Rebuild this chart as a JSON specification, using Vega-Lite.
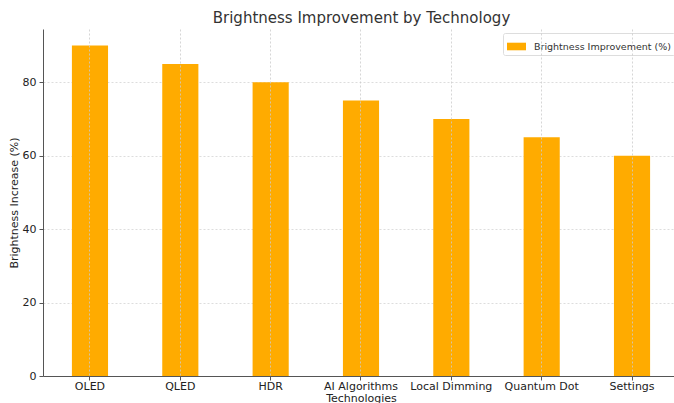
{
  "$schema": "https://vega.github.io/schema/vega-lite/v6.json",
  "width": 631,
  "height": 347,
  "autosize": {"type": "none"},
  "padding": {"left": 43, "top": 29, "right": 0, "bottom": 27},
  "config": {
    "font": "DejaVu Sans",
    "view": {"stroke": null},
    "axis": {"labelFont": "DejaVu Sans", "titleFont": "DejaVu Sans"}
  },
  "title": {
    "text": "Brightness Improvement by Technology",
    "fontSize": 15,
    "fontWeight": "normal",
    "color": "#333333",
    "offset": 3,
    "dx": 3
  },
  "data": {
    "values": [
      {"Technology": "OLED", "Brightness": 90},
      {"Technology": "QLED", "Brightness": 85},
      {"Technology": "HDR", "Brightness": 80},
      {"Technology": "AI Algorithms", "Brightness": 75},
      {"Technology": "Local Dimming", "Brightness": 70},
      {"Technology": "Quantum Dot", "Brightness": 65},
      {"Technology": "Settings", "Brightness": 60}
    ]
  },
  "mark": {"type": "bar", "stroke": null},
  "encoding": {
    "x": {
      "field": "Technology",
      "type": "nominal",
      "sort": null,
      "scale": {"range": [0, 636], "paddingInner": 0.6, "paddingOuter": 0.32},
      "axis": {
        "title": "Technologies",
        "titleFontSize": 11,
        "titleFontWeight": "normal",
        "titleColor": "#222222",
        "titlePadding": 1,
        "labelAngle": 0,
        "labelFontSize": 11,
        "labelColor": "#222222",
        "labelPadding": 0,
        "tickSize": 4,
        "tickColor": "#555555",
        "domainColor": "#555555",
        "grid": true,
        "gridColor": "#cccccc",
        "gridDash": [2, 2],
        "gridOpacity": 0.8,
        "zindex": 1
      }
    },
    "y": {
      "field": "Brightness",
      "type": "quantitative",
      "scale": {"domain": [0, 94.5], "nice": false},
      "axis": {
        "title": "Brightness Increase (%)",
        "titleFontSize": 11,
        "titleFontWeight": "normal",
        "titleColor": "#222222",
        "titlePadding": 3,
        "values": [0, 20, 40, 60, 80],
        "labelFontSize": 11,
        "labelColor": "#222222",
        "labelPadding": 3,
        "tickSize": 4,
        "tickColor": "#555555",
        "domainColor": "#555555",
        "grid": true,
        "gridColor": "#dddddd",
        "gridDash": [2, 2]
      }
    },
    "color": {
      "datum": "Brightness Improvement (%)",
      "type": "nominal",
      "scale": {"range": ["#FFAB00"]},
      "legend": {
        "title": null,
        "orient": "none",
        "legendX": 460,
        "legendY": 4,
        "padding": 4,
        "strokeColor": "#dddddd",
        "fillColor": "#ffffff",
        "cornerRadius": 2,
        "symbolType": "M-1,-0.4H1V0.4H-1Z",
        "symbolSize": 361,
        "symbolStrokeWidth": 0,
        "labelFontSize": 9.5,
        "labelColor": "#333333",
        "labelOffset": 8
      }
    }
  }
}
